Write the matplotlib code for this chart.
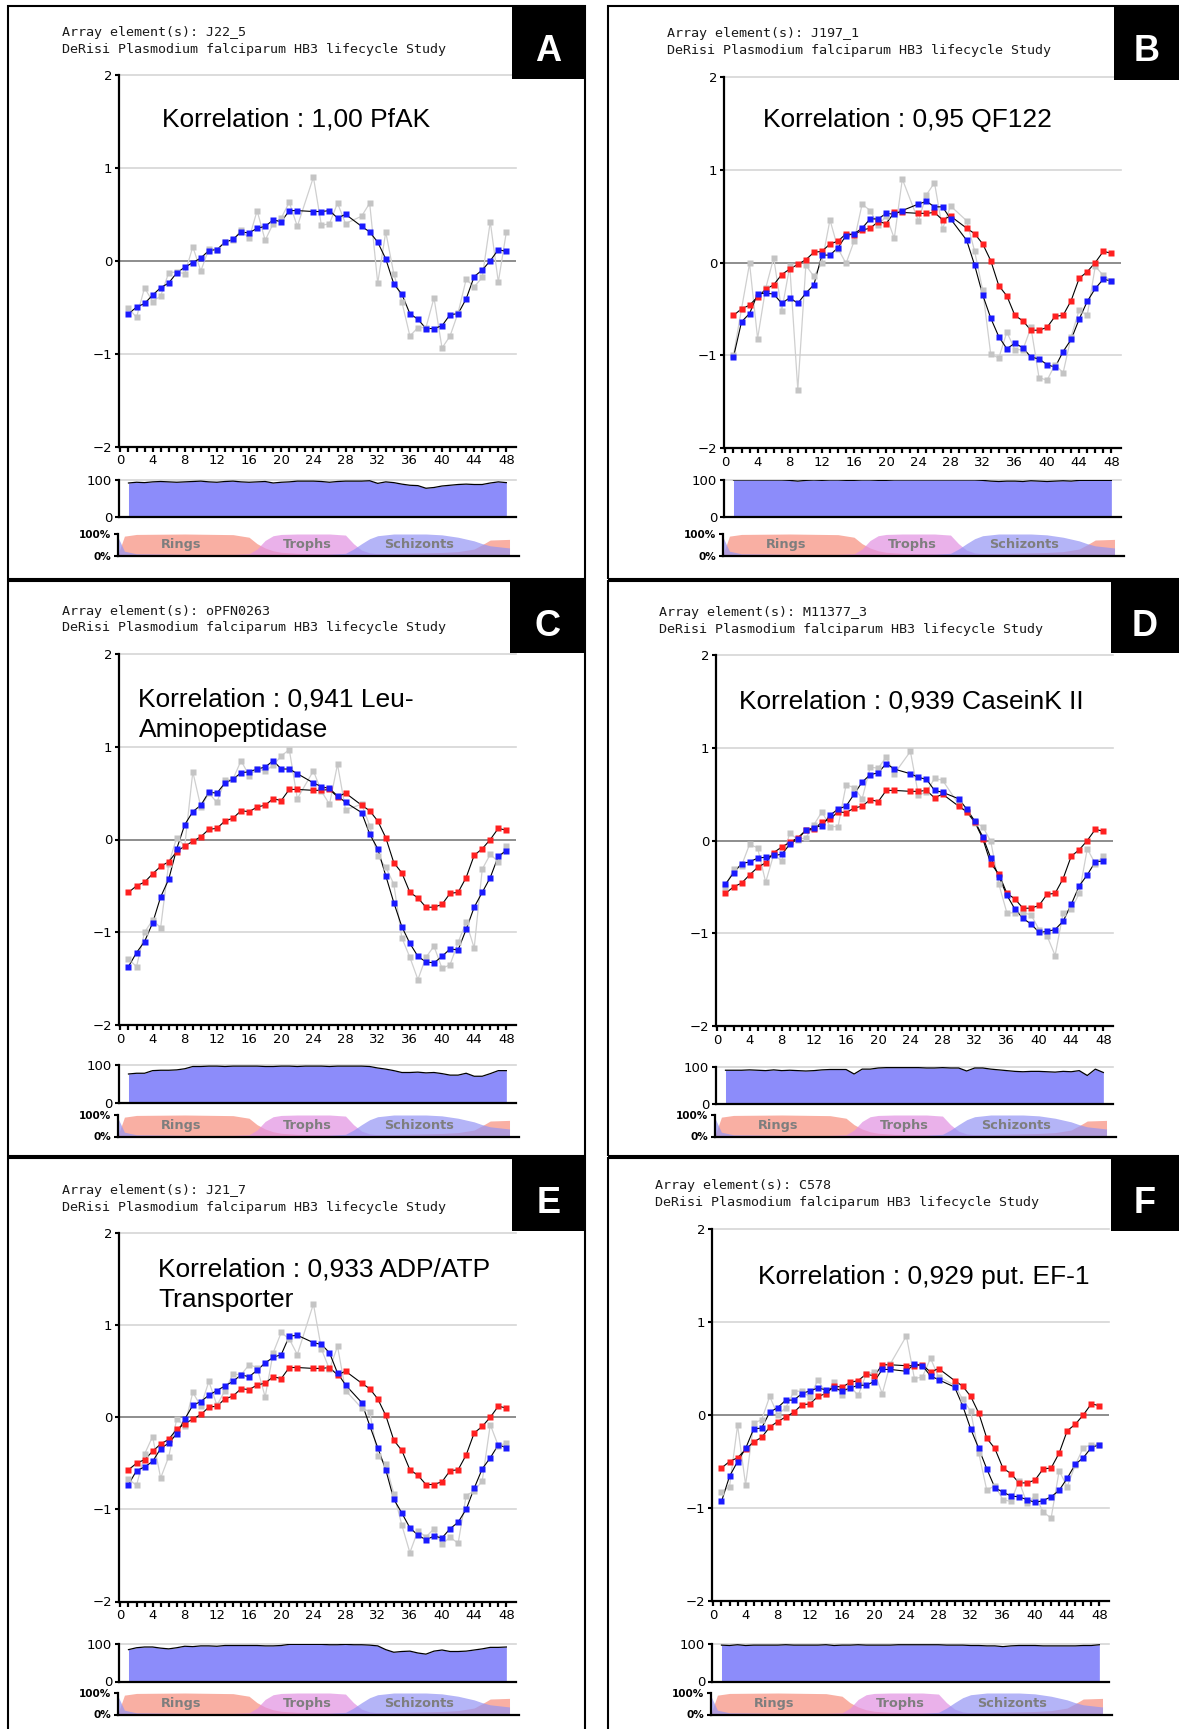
# PlasmoDB-style expression profiles, six panels (A-F)
# blue = gene profile (smoothed), grey = raw values, red = PfAK reference
import numpy as np
import matplotlib
matplotlib.use('Agg')
import matplotlib.pyplot as plt
from matplotlib.patches import Rectangle

nan = np.nan
hours = np.arange(1, 49)

# ---- data (log ratio per hour, t23/t29 missing) ----
ref_pfak = [-0.57, -0.50, -0.46, -0.37, -0.29, -0.24, -0.13, -0.07, -0.02, 0.03, 0.11, 0.12,
            0.20, 0.23, 0.31, 0.30, 0.35, 0.37, 0.44, 0.42, 0.54, 0.54, nan, 0.53,
            0.53, 0.54, 0.46, 0.50, nan, 0.37, 0.31, 0.20, 0.02, -0.25, -0.36, -0.57,
            -0.63, -0.73, -0.73, -0.70, -0.58, -0.57, -0.41, -0.17, -0.10, 0.00, 0.12, 0.10]

grey_a = [-0.51, -0.61, -0.29, -0.44, -0.38, -0.13, -0.12, -0.14, 0.15, -0.11, 0.13, 0.12,
          0.20, 0.22, 0.33, 0.24, 0.54, 0.22, 0.40, 0.46, 0.63, 0.37, nan, 0.90,
          0.38, 0.40, 0.62, 0.40, nan, 0.48, 0.62, -0.24, 0.31, -0.14, -0.44, -0.81,
          -0.72, -0.72, -0.40, -0.94, -0.81, -0.56, -0.20, -0.28, -0.18, 0.42, -0.23, 0.31]

blue_b = [-1.02, -0.64, -0.55, -0.34, -0.33, -0.34, -0.44, -0.38, -0.44, -0.33, -0.24, 0.08,
          0.08, 0.16, 0.29, 0.31, 0.37, 0.47, 0.47, 0.53, 0.52, 0.56, nan, 0.63,
          0.66, 0.60, 0.60, 0.47, nan, 0.24, -0.03, -0.35, -0.60, -0.80, -0.93, -0.87,
          -0.92, -1.02, -1.04, -1.10, -1.13, -0.96, -0.83, -0.61, -0.42, -0.28, -0.18, -0.20]
grey_b = [-1.00, -0.50, -0.01, -0.82, -0.28, 0.05, -0.52, -0.04, -1.37, -0.03, -0.15, 0.00,
          0.46, 0.15, -0.01, 0.23, 0.63, 0.56, 0.40, 0.50, 0.26, 0.90, nan, 0.45,
          0.73, 0.86, 0.36, 0.61, nan, 0.45, 0.12, -0.30, -0.99, -1.03, -0.75, -0.94,
          -0.94, -0.70, -1.24, -1.27, -1.10, -1.19, -0.80, -0.51, -0.57, -0.04, -0.14, -0.20]

blue_c = [-1.37, -1.22, -1.10, -0.90, -0.62, -0.43, -0.10, 0.16, 0.30, 0.37, 0.51, 0.50,
          0.61, 0.65, 0.72, 0.73, 0.76, 0.78, 0.85, 0.76, 0.76, 0.71, nan, 0.61,
          0.57, 0.55, 0.47, 0.40, nan, 0.29, 0.06, -0.10, -0.39, -0.68, -0.94, -1.12,
          -1.26, -1.32, -1.33, -1.26, -1.18, -1.19, -0.97, -0.73, -0.57, -0.41, -0.18, -0.12]
grey_c = [-1.29, -1.37, -1.00, -0.87, -0.95, -0.26, 0.02, -0.07, 0.73, 0.35, 0.50, 0.40,
          0.64, 0.65, 0.85, 0.69, 0.76, 0.74, 0.80, 0.90, 0.97, 0.44, nan, 0.74,
          0.52, 0.38, 0.81, 0.32, nan, 0.38, 0.15, -0.18, -0.30, -0.48, -1.06, -1.27,
          -1.51, -1.27, -1.15, -1.39, -1.35, -1.11, -0.89, -1.17, -0.32, -0.16, -0.24, -0.07]

blue_d = [-0.47, -0.35, -0.25, -0.23, -0.19, -0.18, -0.16, -0.15, -0.04, 0.02, 0.11, 0.14,
          0.16, 0.27, 0.34, 0.37, 0.50, 0.63, 0.71, 0.73, 0.83, 0.77, nan, 0.72,
          0.68, 0.66, 0.54, 0.52, nan, 0.45, 0.34, 0.21, 0.04, -0.19, -0.39, -0.59,
          -0.74, -0.84, -0.90, -0.99, -0.98, -0.96, -0.87, -0.69, -0.49, -0.37, -0.23, -0.22]
grey_d = [-0.50, -0.31, -0.27, -0.04, -0.08, -0.45, -0.15, -0.22, 0.08, 0.01, 0.03, 0.17,
          0.31, 0.15, 0.15, 0.60, 0.57, 0.45, 0.79, 0.78, 0.90, 0.72, nan, 0.96,
          0.49, 0.52, 0.67, 0.65, nan, 0.39, 0.31, 0.19, 0.15, -0.01, -0.47, -0.78,
          -0.78, -0.78, -0.80, -0.96, -1.03, -1.24, -0.78, -0.74, -0.57, -0.09, -0.25, -0.17]

blue_e = [-0.73, -0.58, -0.54, -0.48, -0.34, -0.28, -0.18, -0.02, 0.13, 0.17, 0.24, 0.29,
          0.34, 0.39, 0.46, 0.44, 0.51, 0.59, 0.65, 0.68, 0.88, 0.89, nan, 0.81,
          0.79, 0.70, 0.48, 0.35, nan, 0.16, -0.09, -0.33, -0.57, -0.89, -1.04, -1.20,
          -1.28, -1.33, -1.29, -1.31, -1.21, -1.14, -1.00, -0.77, -0.56, -0.44, -0.30, -0.33]
grey_e = [-0.67, -0.74, -0.40, -0.21, -0.66, -0.43, -0.02, -0.09, 0.27, 0.12, 0.39, 0.13,
          0.29, 0.47, 0.46, 0.57, 0.54, 0.22, 0.70, 0.92, 0.85, 0.68, nan, 1.23,
          0.74, 0.52, 0.77, 0.29, nan, 0.10, 0.06, -0.42, -0.51, -0.83, -1.17, -1.47,
          -1.23, -1.30, -1.21, -1.38, -1.30, -1.37, -0.85, -0.80, -0.69, -0.08, -0.31, -0.28]

blue_f = [-0.93, -0.66, -0.50, -0.36, -0.15, -0.14, 0.03, 0.08, 0.16, 0.16, 0.23, 0.26,
          0.29, 0.27, 0.29, 0.26, 0.29, 0.32, 0.32, 0.36, 0.49, 0.49, nan, 0.47,
          0.55, 0.53, 0.42, 0.38, nan, 0.30, 0.10, -0.15, -0.36, -0.58, -0.78, -0.83,
          -0.87, -0.88, -0.91, -0.94, -0.92, -0.88, -0.81, -0.68, -0.53, -0.46, -0.35, -0.32]
grey_f = [-0.83, -0.77, -0.11, -0.75, -0.09, -0.05, 0.20, 0.00, 0.08, 0.25, 0.26, 0.19,
          0.38, 0.23, 0.35, 0.21, 0.31, 0.21, 0.44, 0.46, 0.23, 0.55, nan, 0.85,
          0.39, 0.41, 0.61, 0.41, nan, 0.32, 0.17, 0.04, -0.41, -0.81, -0.76, -0.91,
          -0.93, -0.71, -0.95, -0.87, -1.04, -1.11, -0.60, -0.77, -0.54, -0.35, -0.32, -0.32]

# percentile / present calls per hour
pct_a = [92, 94, 93, 95, 96, 95, 94, 95, 96, 97, 95, 94, 96, 97, 95, 94, 95, 96, 92, 94, 95, 97, 97, 97,
         96, 94, 96, 97, 97, 97, 98, 91, 95, 93, 89, 86, 85, 78, 80, 84, 86, 88, 89, 88, 88, 92, 95, 93]
pct_b = [100, 100, 100, 100, 100, 100, 100, 99, 97, 99, 100, 99, 100, 100, 99, 99, 100, 100, 99, 99,
         100, 100, 100, 100, 100, 100, 100, 100, 100, 100, 100, 99, 97, 96, 97, 97, 96, 98, 97, 96,
         97, 98, 97, 99, 99, 99, 99, 99]
pct_c = [76, 78, 78, 85, 86, 86, 87, 90, 96, 96, 97, 97, 96, 97, 97, 97, 97, 96, 96, 97, 97, 96, 97, 97,
         97, 96, 97, 97, 97, 97, 96, 92, 89, 85, 80, 80, 81, 79, 80, 77, 73, 73, 78, 70, 70, 77, 85, 85]
pct_d = [90, 90, 90, 91, 90, 89, 91, 89, 90, 89, 88, 89, 91, 92, 92, 92, 80, 93, 93, 96, 97, 97, 97, 97,
         97, 96, 96, 97, 96, 96, 88, 96, 96, 93, 91, 89, 87, 86, 87, 87, 86, 85, 87, 86, 89, 76, 93, 84]
pct_e = [85, 90, 92, 92, 89, 87, 90, 94, 93, 95, 95, 94, 96, 96, 96, 96, 96, 95, 95, 96, 99, 99, 99, 99,
         99, 98, 98, 99, 98, 98, 97, 95, 85, 78, 80, 81, 76, 73, 81, 84, 80, 80, 81, 84, 87, 91, 91, 92]
pct_f = [97, 96, 98, 96, 97, 97, 97, 97, 98, 97, 97, 97, 97, 98, 96, 97, 97, 98, 97, 97, 97, 97, 98, 98,
         98, 98, 98, 98, 97, 97, 97, 96, 96, 95, 95, 93, 95, 96, 96, 96, 95, 95, 95, 95, 95, 96, 96, 98]

# life-cycle stage fractions (%)
stage_t = [-0.3, 0.5, 2, 8, 14, 16, 17, 18, 19, 20, 22, 26, 28, 29, 30, 31, 32, 34, 38, 40, 42, 44, 45, 46, 48.4]
rings = [5, 90, 98, 100, 97, 85, 55, 35, 22, 15, 10, 8, 7, 7, 7, 7, 8, 9, 12, 14, 18, 30, 50, 72, 75]
trophs = [3, 3, 3, 4, 5, 8, 30, 70, 92, 98, 100, 100, 95, 55, 25, 12, 8, 6, 5, 5, 4, 4, 4, 4, 4]
schizonts = [85, 20, 8, 5, 4, 4, 4, 4, 4, 4, 5, 6, 10, 30, 55, 78, 92, 100, 100, 96, 85, 68, 55, 45, 35]
stage_names = ['Rings', 'Trophs', 'Schizonts']
stage_label_t = [7.6, 23.3, 37.2]

letters = ['A', 'B', 'C', 'D', 'E', 'F']
elements = ['J22_5', 'J197_1', 'oPFN0263', 'M11377_3', 'J21_7', 'C578']
titles = [['Korrelation : 1,00 PfAK'],
          ['Korrelation : 0,95 QF122'],
          ['Korrelation : 0,941 Leu-', 'Aminopeptidase'],
          ['Korrelation : 0,939 CaseinK II'],
          ['Korrelation : 0,933 ADP/ATP', 'Transporter'],
          ['Korrelation : 0,929 put. EF-1']]
blues = [ref_pfak, blue_b, blue_c, blue_d, blue_e, blue_f]
greys = [grey_a, grey_b, grey_c, grey_d, grey_e, grey_f]
pcts = [pct_a, pct_b, pct_c, pct_d, pct_e, pct_f]

# ---- layout in pixels (top-left origin) ----
W, H = 1179, 1729
frames = [(8, 6, 585, 579), (608, 6, 1192, 579), (8, 581, 585, 1156),
          (608, 581, 1192, 1156), (8, 1158, 585, 1742), (608, 1158, 1192, 1742)]
boxes = [(512, 6, 585, 79), (1114, 6, 1179, 80), (510, 581, 585, 653),
         (1111, 581, 1179, 653), (512, 1158, 585, 1231), (1111, 1158, 1179, 1231)]
head_pos = [(62, 32.6), (667, 34), (62, 611.5), (659, 612.5), (62, 1190.5), (655, 1186)]
title_pos = [(162.5, 119.5), (763, 120), (138.5, 699.5), (739, 701), (158, 1269.5), (758, 1277)]
ax_left = [119, 724, 119, 716, 119, 712]
main_top = [75, 77, 654, 655, 1233, 1229]
main_bot = [446.5, 448, 1025, 1026, 1601.5, 1601]
pct_top = [480, 480, 1065, 1066.5, 1644, 1644]
strip_top = [534, 534, 1115, 1115, 1693, 1693]
AX_W = 397
XMIN, XMAX = -0.18, 49.2

fig = plt.figure(figsize=(W / 100, H / 100), dpi=100)
fig.patch.set_facecolor('white')


def px_axes(left, top, width, height):
    return fig.add_axes([left / W, 1 - (top + height) / H, width / W, height / H])


def px_rect(x0, y0, x1, y1, **kw):
    fig.add_artist(Rectangle((x0 / W, 1 - y1 / H), (x1 - x0) / W, (y1 - y0) / H,
                             transform=fig.transFigure, **kw))


def style_axes(ax):
    for s in ['top', 'right']:
        ax.spines[s].set_visible(False)
    for s in ['left', 'bottom']:
        ax.spines[s].set_linewidth(1.6)
        ax.spines[s].set_color('black')
    ax.set_facecolor('none')


def series(ax, vals, line_col, mark_col, lw):
    v = np.array(vals, dtype=float)
    m = ~np.isnan(v)
    ax.plot(hours[m], v[m], '-', color=line_col, lw=lw, zorder=2)
    ax.plot(hours[m], v[m], 's', ms=4.8, mfc=mark_col, mec='none', zorder=3)


for i in range(6):
    # frame and letter box
    px_rect(*frames[i], fill=False, ec='black', lw=1.5, zorder=6)
    px_rect(*boxes[i], fc='black', ec='black', lw=0, zorder=7)
    bx0, by0, bx1, by1 = boxes[i]
    fig.text((bx0 + bx1) / 2 / W, 1 - (by0 + 55) / H, letters[i], color='white',
             fontsize=26, fontweight='bold', family='Liberation Sans',
             ha='center', va='baseline', zorder=8)

    # header lines
    hx, hy = head_pos[i]
    fig.text(hx / W, 1 - hy / H, 'Array element(s): ' + elements[i], family='DejaVu Sans Mono',
             fontsize=9.6, color='#1a1a1a', va='center')
    fig.text(hx / W, 1 - (hy + 16.5) / H, 'DeRisi Plasmodium falciparum HB3 lifecycle Study',
             family='DejaVu Sans Mono', fontsize=9.6, color='#1a1a1a', va='center')

    # main profile plot
    L = ax_left[i]
    ax = px_axes(L, main_top[i], AX_W, main_bot[i] - main_top[i])
    style_axes(ax)
    ax.set_xlim(XMIN, XMAX)
    ax.set_ylim(-2, 2)
    for y in [-1, 1, 2]:
        ax.axhline(y, color='#d6d6d6', lw=1.2, zorder=0, clip_on=False)
    ax.axhline(0, color='#7a7a7a', lw=1.2, zorder=0)
    series(ax, greys[i], '#cfcfcf', '#c4c4c4', 0.9)
    if i > 0:
        series(ax, ref_pfak, 'black', '#ff2020', 0.8)
    series(ax, blues[i], 'black', '#1a1aff', 0.8)
    ax.set_xticks(range(0, 49, 4))
    ax.set_xticks(range(0, 49), minor=True)
    ax.set_yticks([-2, -1, 0, 1, 2])
    ax.tick_params(axis='x', which='both', direction='out', length=3.5, width=1.6, pad=2,
                   labelsize=9.5)
    ax.tick_params(axis='y', direction='out', length=3, width=1.5, pad=2, labelsize=9.5)

    for k, line in enumerate(titles[i]):
        tx, ty = title_pos[i]
        fig.text(tx / W, 1 - (ty + 31 * k) / H, line, family='Liberation Sans', fontsize=19,
                 ha='left', va='center', zorder=5)

    # percentile plot
    ax2 = px_axes(L, pct_top[i], AX_W, 37.5)
    style_axes(ax2)
    ax2.set_xlim(XMIN, XMAX)
    ax2.set_ylim(0, 100)
    ax2.axhline(100, color='#d6d6d6', lw=1.2, zorder=0, clip_on=False)
    ax2.fill_between(hours, pcts[i], color='#8c8cfa', lw=0, zorder=1)
    ax2.plot(hours, pcts[i], color='black', lw=0.9, zorder=2)
    ax2.set_xticks([])
    ax2.set_yticks([0, 100])
    ax2.tick_params(axis='y', direction='out', length=3, width=1.5, pad=2, labelsize=9.5)

    # stage strip
    ax3 = px_axes(L - 1, strip_top[i], AX_W + 4, 21.5)
    style_axes(ax3)
    ax3.set_xlim(XMIN - 0.12, XMAX + 0.38)
    ax3.set_ylim(0, 100)
    ax3.fill_between(stage_t, rings, color='#f79585', alpha=0.75, lw=0)
    ax3.fill_between(stage_t, trophs, color='#e291e2', alpha=0.7, lw=0)
    ax3.fill_between(stage_t, schizonts, color='#9494f4', alpha=0.7, lw=0)
    for name, t in zip(stage_names, stage_label_t):
        ax3.text(t, 50, name, color='#7e7e7e', fontsize=9.3, fontweight='bold',
                 ha='center', va='center')
    ax3.set_xticks([])
    ax3.set_yticks([0, 100])
    ax3.set_yticklabels(['0%', '100%'], fontweight='bold')
    ax3.tick_params(axis='y', direction='out', length=3, width=1.5, pad=2, labelsize=7.5)

fig.savefig('out.png', dpi=100)
